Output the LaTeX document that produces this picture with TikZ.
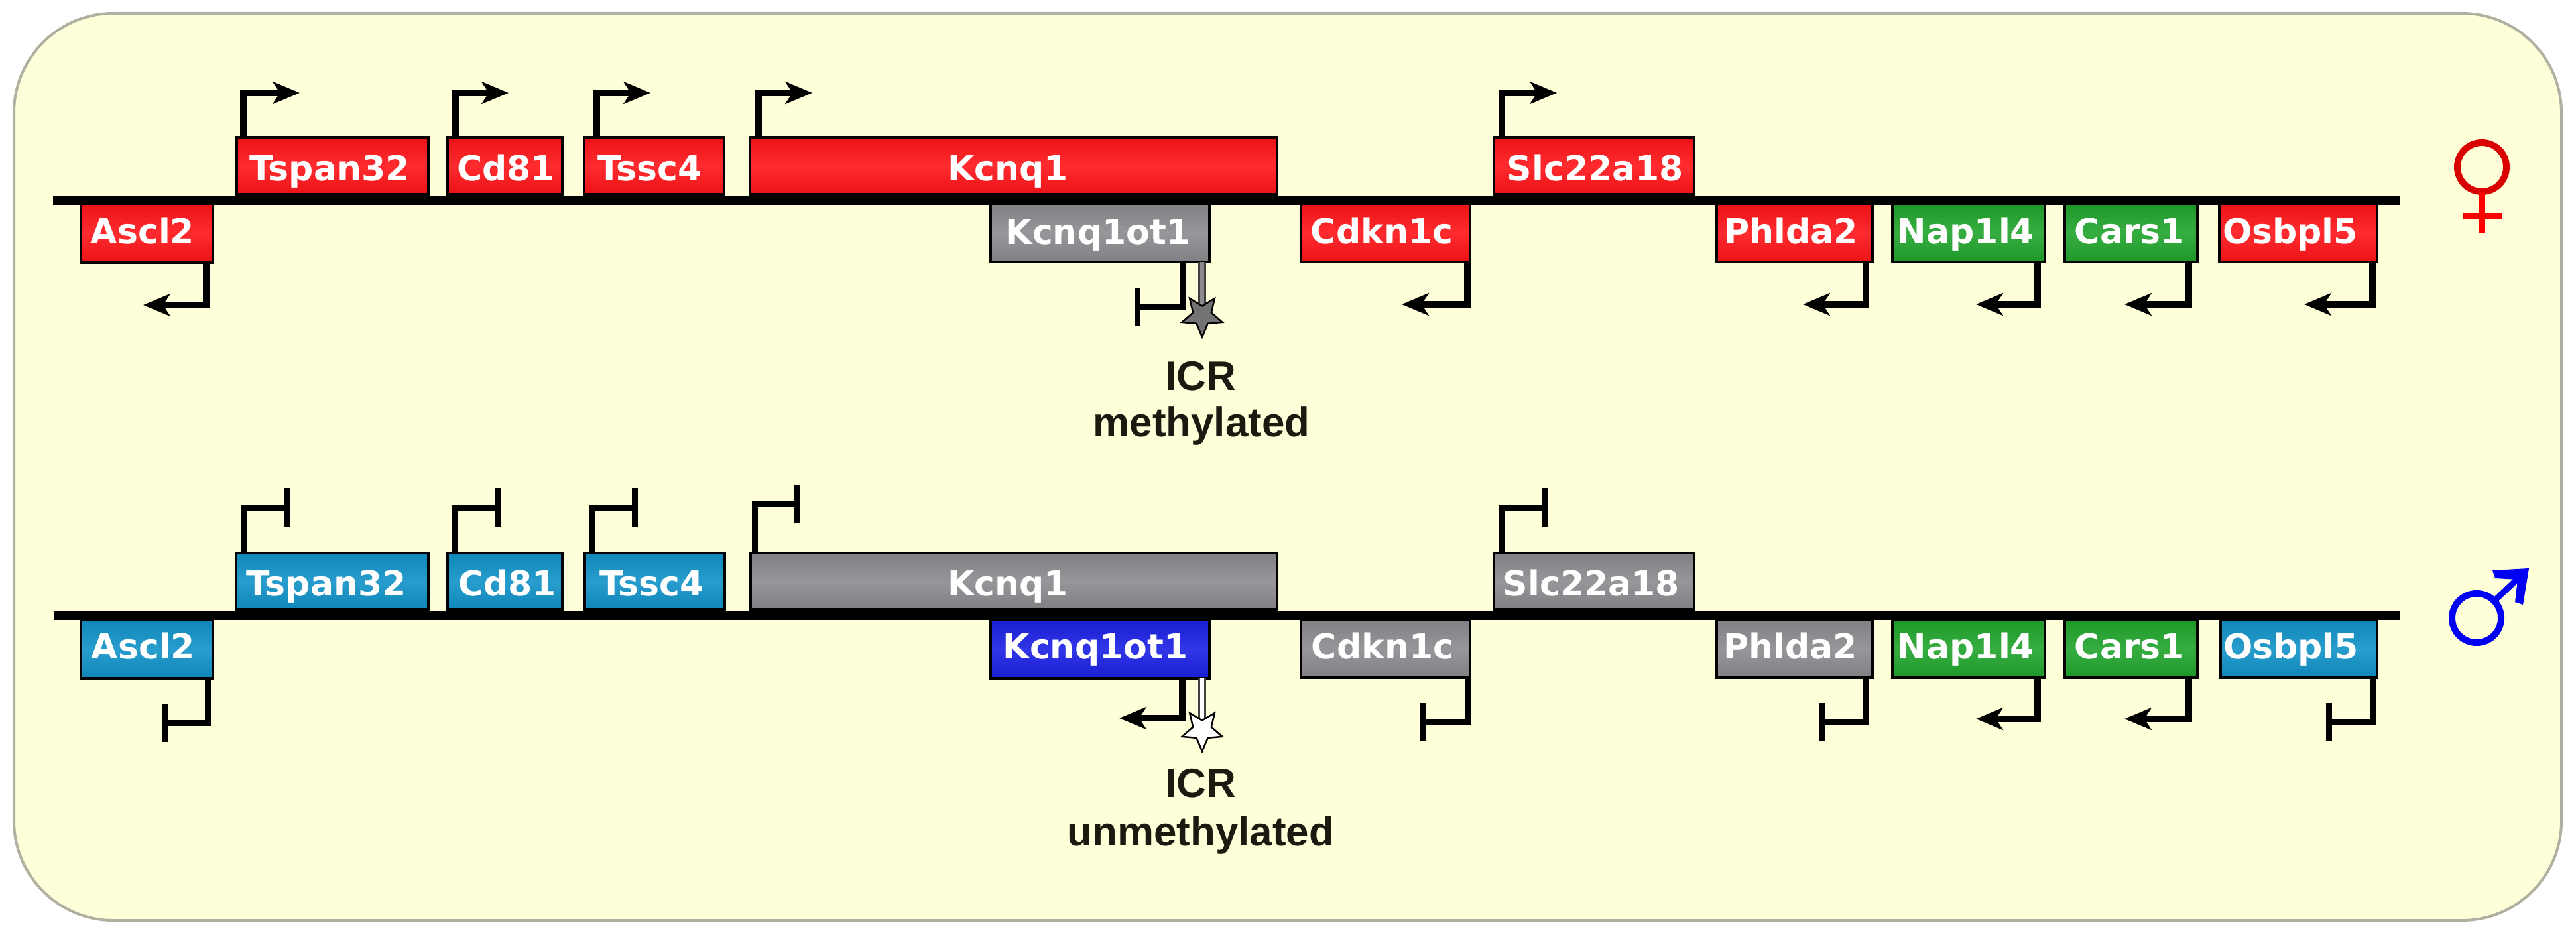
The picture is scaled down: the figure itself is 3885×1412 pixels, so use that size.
\documentclass[tikz,border=0pt]{standalone}
\usepackage{fontspec}
\setmainfont{DejaVu Sans}
\newfontfamily\icrfont{Liberation Sans}
\usetikzlibrary{arrows.meta,shapes.geometric}
\definecolor{panelfill}{HTML}{FEFED8}
\definecolor{panelline}{HTML}{B0B0A0}
\definecolor{cred}{HTML}{FF1418}
\definecolor{cteal}{HTML}{1092C8}
\definecolor{cgray}{HTML}{8C8A8E}
\definecolor{cgreen}{HTML}{20A42C}
\definecolor{cblue}{HTML}{1A20E4}
\definecolor{inktext}{HTML}{1A1A10}
\def\pxu{0.28453pt}
\tikzset{
  genebox/.style={draw=black,line width=4*\pxu,inner sep=0pt,outer sep=0pt,
    top color=#1!92!black,bottom color=#1!92!black,middle color=#1!90!white},
  genetext/.style={anchor=base,inner sep=0pt,text=white,
    font=\fontsize{14.8}{16}\selectfont\bfseries},
  chrom/.style={line width=13*\pxu,black},
  promoter/.style={line width=9.5*\pxu,black,miter limit=10,
    -{Stealth[length=11.5pt,width=9.5pt,inset=3pt]}},
  silent/.style={line width=9*\pxu,black,
    -{Bar[width=16.5pt,line width=2.6pt]}},
  icrlink/.style={double=#1,double distance=6*\pxu,line width=3*\pxu,draw=black!75},
  icrstar/.style={star,star points=5,star point ratio=2.2,shape border rotate=180,
    minimum size=64*\pxu,inner sep=0pt,outer sep=0pt,draw=black,line width=2.5*\pxu,fill=#1},
  icrtext/.style={anchor=base,inner sep=0pt,text=inktext,
    font=\icrfont\fontsize{17.6}{20}\selectfont\bfseries},
}
% id, x1, y1, x2, y2, colour, text centre x, text baseline y, text
\newcommand{\drawgene}[9]{%
  \pgfmathsetmacro{\gw}{#4-#2-4}\pgfmathsetmacro{\gh}{#5-#3-4}%
  \node[genebox=#6,minimum width=\gw*\pxu,minimum height=\gh*\pxu] (#1) at ({(#2+#4)/2},{(#3+#5)/2}) {};%
  \node[genetext] (#1-t) at (#7,#8) {#9};%
}
% kind, id, anchor, stem x, level y, end x
\newcommand{\tss}[6]{%
  \coordinate (#2-s) at (#4,#5);\coordinate (#2-e) at (#6,#5);%
  \draw[#1] (#2.#3 -| #2-s) -- (#2-s) -- (#2-e);%
}
\begin{document}
\begin{tikzpicture}[x=0.01cm,y=-0.01cm]
\useasboundingbox (0,0) rectangle (3885,1412);
\fill[white] (0,0) rectangle (3885,1412);
\draw[panelline,fill=panelfill,line width=4*\pxu,rounded corners=1.5cm] (21,20) rectangle (3863,1388);

% ---- maternal chromosome
\drawgene{fa}{120}{305}{323}{398}{cred}{215}{367}{Ascl2}
\drawgene{ft}{355}{205}{648}{295}{cred}{497}{272}{Tspan32}
\drawgene{fc}{673}{205}{850}{295}{cred}{763}{272}{Cd81}
\drawgene{fs}{879}{205}{1094}{295}{cred}{980}{272}{Tssc4}
\drawgene{fk}{1129}{205}{1928}{295}{cred}{1520}{272}{Kcnq1}
\drawgene{fo}{1492}{305}{1826}{397}{cgray}{1656}{368}{Kcnq1ot1}
\drawgene{fd}{1960}{305}{2219}{397}{cred}{2084}{367}{Cdkn1c}
\drawgene{fl}{2251}{205}{2557}{295}{cred}{2406}{272}{Slc22a18}
\drawgene{fp}{2587}{305}{2826}{397}{cred}{2701}{367}{Phlda2}
\drawgene{fn}{2852}{305}{3086}{397}{cgreen}{2965}{367}{Nap1l4}
\drawgene{fr}{3112}{305}{3316}{397}{cgreen}{3212}{367}{Cars1}
\drawgene{fb}{3345}{305}{3587}{397}{cred}{3454}{367}{Osbpl5}
\coordinate (fl0) at (80,302);\coordinate (fl1) at (3620,302);
\draw[chrom] (fl0) -- (fl1);

\tss{promoter}{fa}{south}{311}{460}{216}
\tss{promoter}{ft}{north}{367}{140}{452}
\tss{promoter}{fc}{north}{687}{140}{767}
\tss{promoter}{fs}{north}{900}{140}{981}
\tss{promoter}{fk}{north}{1144}{140}{1225}
\tss{silent}{fo}{south}{1783}{463}{1711}
\tss{promoter}{fd}{south}{2213}{459}{2114}
\tss{promoter}{fl}{north}{2265}{140}{2348}
\tss{promoter}{fp}{south}{2814}{459}{2719}
\tss{promoter}{fn}{south}{3073}{459}{2980}
\tss{promoter}{fr}{south}{3301}{459}{3204}
\tss{promoter}{fb}{south}{3578}{459}{3475}

\coordinate (fstarc) at (1813,476);
\draw[icrlink=cgray] (fo.south -| fstarc) -- (fstarc);
\node[icrstar=black!55] (fstar) at (fstarc) {};
\node[icrtext] (ficr) at (1811,588) {ICR};
\node[icrtext] (fmeth) at (1812,658) {methylated};

% ---- paternal chromosome
\drawgene{ma}{120}{933}{323}{1025}{cteal}{216}{993}{Ascl2}
\drawgene{mt}{354}{832}{648}{921}{cteal}{492}{898}{Tspan32}
\drawgene{mc}{673}{832}{850}{921}{cteal}{765}{898}{Cd81}
\drawgene{ms}{880}{832}{1095}{921}{cteal}{983}{898}{Tssc4}
\drawgene{mk}{1130}{832}{1928}{921}{cgray}{1520}{898}{Kcnq1}
\drawgene{mo}{1492}{933}{1826}{1025}{cblue}{1652}{993}{Kcnq1ot1}
\drawgene{md}{1960}{933}{2219}{1024}{cgray}{2085}{993}{Cdkn1c}
\drawgene{ml}{2251}{832}{2557}{921}{cgray}{2400}{898}{Slc22a18}
\drawgene{mp}{2587}{933}{2826}{1024}{cgray}{2700}{993}{Phlda2}
\drawgene{mn}{2852}{933}{3086}{1024}{cgreen}{2965}{993}{Nap1l4}
\drawgene{mr}{3112}{933}{3316}{1024}{cgreen}{3212}{993}{Cars1}
\drawgene{mb}{3347}{933}{3587}{1024}{cteal}{3455}{993}{Osbpl5}
\coordinate (ml0) at (82,928);\coordinate (ml1) at (3620,928);
\draw[chrom] (ml0) -- (ml1);

\tss{silent}{ma}{south}{313}{1090}{244}
\tss{silent}{mt}{north}{367}{765}{437}
\tss{silent}{mc}{north}{686}{765}{756}
\tss{silent}{ms}{north}{893}{765}{962}
\tss{silent}{mk}{north}{1138}{760}{1207}
\tss{promoter}{mo}{south}{1783}{1083}{1688}
\tss{silent}{md}{south}{2213}{1089}{2142}
\tss{silent}{ml}{north}{2265}{765}{2334}
\tss{silent}{mp}{south}{2814}{1089}{2743}
\tss{promoter}{mn}{south}{3073}{1084}{2980}
\tss{promoter}{mr}{south}{3301}{1084}{3204}
\tss{silent}{mb}{south}{3578}{1089}{3508}

\coordinate (mstarc) at (1813,1101);
\draw[icrlink=white] (mo.south -| mstarc) -- (mstarc);
\node[icrstar=white] (mstar) at (mstarc) {};
\node[icrtext] (micr) at (1811,1202) {ICR};
\node[icrtext] (mmeth) at (1811,1275) {unmethylated};

% ---- sex symbols
\draw[red!85!black,line width=10*\pxu] (3743,252) circle (37);
\draw[red,line width=9*\pxu] (3743,289) -- (3743,351);
\draw[red,line width=9*\pxu] (3715,325) -- (3774,325);
\draw[blue!95!black,line width=10*\pxu] (3735,932) circle (37);
\draw[blue!95!black,line width=9*\pxu] (3762,906) -- (3800,870);
\fill[blue!95!black] (3759,860) -- (3814,857) -- (3805,912) -- (3793,908) -- (3797,874) -- (3763,872) -- cycle;
\end{tikzpicture}
\end{document}
